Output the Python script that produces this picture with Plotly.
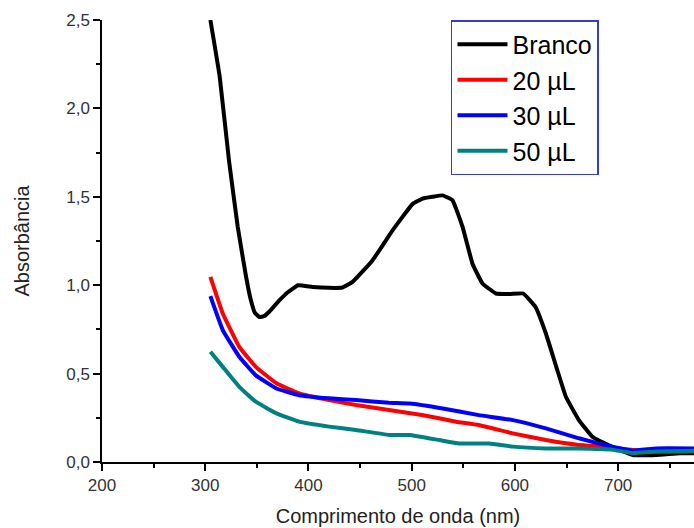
import plotly.graph_objects as go

# Data
branco_x = [305, 314, 323, 331.5, 339.6, 344, 348, 352.5, 357, 362, 372, 380, 390, 404, 420, 433, 443,
            462, 481.5, 501, 510.6, 520, 530, 539.6, 549.3, 559, 568.6, 581.6, 595, 608, 620,
            630, 640, 649.4, 662, 675, 694.5, 714, 737, 760, 775]
branco_y = [2.50, 2.18, 1.706, 1.33, 1.047, 0.92, 0.845, 0.82, 0.825, 0.85, 0.915, 0.96, 1.0, 0.99, 0.985,
            0.987, 1.02, 1.14, 1.31, 1.46, 1.49, 1.50, 1.508, 1.48, 1.33, 1.12, 1.01, 0.953,
            0.95, 0.953, 0.877, 0.727, 0.54, 0.369, 0.237, 0.143, 0.086, 0.04, 0.04, 0.05, 0.05]

ul20_x = [305, 317, 333, 349, 369, 391, 420, 446, 478, 510, 543, 565, 598, 630, 662, 688, 714, 740, 775]
ul20_y = [1.047, 0.84, 0.651, 0.538, 0.445, 0.388, 0.35, 0.322, 0.294, 0.266, 0.228, 0.209,
          0.162, 0.124, 0.096, 0.086, 0.068, 0.06, 0.06]

ul30_x = [305, 317, 333, 349, 369, 391, 420, 446, 478, 498, 530, 565, 598, 630, 662, 694, 714, 737, 775]
ul30_y = [0.938, 0.746, 0.595, 0.49, 0.416, 0.378, 0.36, 0.35, 0.335, 0.331, 0.303, 0.265,
          0.237, 0.19, 0.134, 0.086, 0.064, 0.077, 0.077]

ul50_x = [305, 317, 333, 349, 369, 391, 420, 446, 478, 498, 527, 546, 575, 598, 630, 662, 694,
          714, 737, 775]
ul50_y = [0.623, 0.538, 0.425, 0.341, 0.275, 0.228, 0.2, 0.181, 0.153, 0.153, 0.124, 0.105,
          0.105, 0.087, 0.077, 0.077, 0.07, 0.05, 0.06, 0.064]

names = ["Branco", "20 µL", "30 µL", "50 µL"]
colors = ["#000000", "#ff0000", "#0000ff", "#008080"]
series = [(branco_x, branco_y), (ul20_x, ul20_y), (ul30_x, ul30_y), (ul50_x, ul50_y)]

FONT = "Liberation Sans, Arial, sans-serif"

fig = go.Figure()
for (xs, ys), n, c in zip(series, names, colors):
    fig.add_trace(go.Scatter(x=xs, y=ys, name=n, mode="lines",
                             line=dict(color=c, width=4, shape="spline", smoothing=0.3)))

fig.update_layout(
    width=694, height=528,
    margin=dict(l=102, r=0, t=20, b=66),
    paper_bgcolor="white", plot_bgcolor="white",
    separators=",.",
    font=dict(family=FONT, color="#222222"),
    showlegend=True,
    legend=dict(x=0.5895, y=1.0, xanchor="left", yanchor="top",
                bordercolor="#3a3acc", borderwidth=1.5, bgcolor="white",
                font=dict(family=FONT, size=25, color="#000000"),
                itemwidth=50, tracegroupgap=0),
)
fig.update_xaxes(range=[200, 773.5], showgrid=False, zeroline=False, automargin=False,
                 showline=True, linecolor="black", linewidth=1.5,
                 ticks="outside", ticklen=7, tickwidth=1.5, tickcolor="black",
                 dtick=100, tick0=200,
                 minor=dict(ticks="outside", ticklen=4, dtick=50, tickcolor="black", tickwidth=1.5),
                 tickfont=dict(family=FONT, size=17, color="#333333"),
                 title=dict(text="Comprimento de onda (nm)", standoff=15,
                            font=dict(family=FONT, size=20, color="#222222")))
fig.update_yaxes(range=[0, 2.5], showgrid=False, zeroline=False, automargin=False,
                 showline=True, linecolor="black", linewidth=1.5,
                 ticks="outside", ticklen=7, tickwidth=1.5, tickcolor="black",
                 dtick=0.5, tick0=0, tickformat=".1f",
                 minor=dict(ticks="outside", ticklen=4, dtick=0.25, tickcolor="black", tickwidth=1.5),
                 tickfont=dict(family=FONT, size=17, color="#333333"),
                 title=dict(text="Absorbância", standoff=31,
                            font=dict(family=FONT, size=20, color="#222222")))

fig.write_html("out.html",
               config={"displayModeBar": False},
               post_script="document.body.style.margin='0';document.body.style.overflow='hidden';")
